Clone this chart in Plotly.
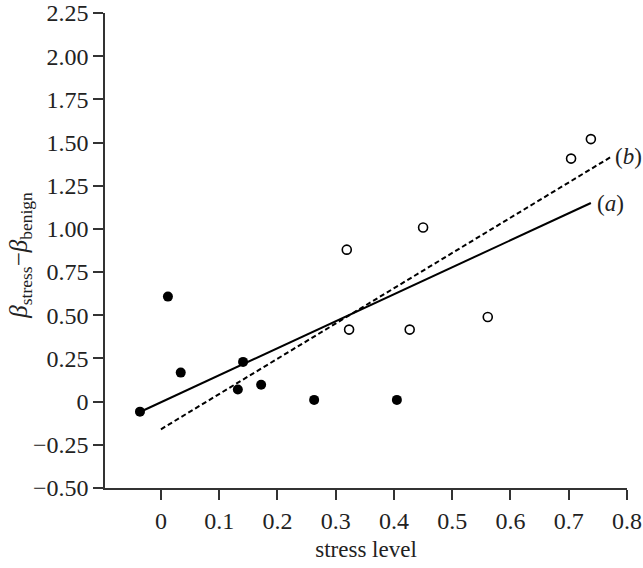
import plotly.graph_objects as go

# data
filled_x = [-0.036, 0.012, 0.034, 0.132, 0.141, 0.172, 0.263, 0.405]
filled_y = [-0.058, 0.608, 0.168, 0.070, 0.230, 0.098, 0.010, 0.010]
open_x = [0.319, 0.323, 0.427, 0.450, 0.561, 0.704, 0.738]
open_y = [0.880, 0.417, 0.417, 1.008, 0.490, 1.407, 1.520]
line_a_x = [-0.036, 0.738]
line_a_y = [-0.060, 1.150]
line_b_x = [0.0, 0.774]
line_b_y = [-0.160, 1.420]
x_ticks = [0, 0.1, 0.2, 0.3, 0.4, 0.5, 0.6, 0.7, 0.8]
x_tick_labels = ["0", "0.1", "0.2", "0.3", "0.4", "0.5", "0.6", "0.7", "0.8"]
y_ticks = [-0.5, -0.25, 0, 0.25, 0.5, 0.75, 1.0, 1.25, 1.5, 1.75, 2.0, 2.25]
y_tick_labels = ["\u22120.50", "\u22120.25", "0", "0.25", "0.50", "0.75", "1.00",
                 "1.25", "1.50", "1.75", "2.00", "2.25"]

FONT = "Liberation Serif, Times New Roman, serif"
fig = go.Figure()
fig.add_trace(go.Scatter(x=line_a_x, y=line_a_y, mode="lines",
                         line=dict(color="black", width=2), cliponaxis=False))
fig.add_trace(go.Scatter(x=line_b_x, y=line_b_y, mode="lines",
                         line=dict(color="black", width=2, dash="5px,3px"), cliponaxis=False))
fig.add_trace(go.Scatter(x=filled_x, y=filled_y, mode="markers",
                         marker=dict(color="black", size=10, line=dict(width=0)), cliponaxis=False))
fig.add_trace(go.Scatter(x=open_x, y=open_y, mode="markers",
                         marker=dict(color="white", size=9, line=dict(color="black", width=1.6)),
                         cliponaxis=False))

fig.add_annotation(x=line_a_x[1], y=line_a_y[1], text="(<i>a</i>)", showarrow=False,
                   xanchor="left", yanchor="middle", xshift=4, font=dict(size=23, color="#222", family=FONT))
fig.add_annotation(x=line_b_x[1], y=line_b_y[1], text="(<i>b</i>)", showarrow=False,
                   xanchor="left", yanchor="middle", xshift=1, font=dict(size=23, color="#222", family=FONT))
fig.add_annotation(xref="paper", yref="paper", x=-0.162, y=0.49,
                   text="<i>β</i><sub>stress</sub>\u2212<i>β</i><sub>benign</sub>",
                   textangle=-90, showarrow=False, xanchor="center", yanchor="middle",
                   font=dict(size=25, color="#222", family=FONT))

fig.update_layout(
    width=643, height=568,
    margin=dict(l=105, r=16, t=13, b=80, autoexpand=False),
    paper_bgcolor="white", plot_bgcolor="white",
    showlegend=False,
    font=dict(family=FONT, size=23, color="#222"),
    xaxis=dict(range=[-0.096, 0.8], tickvals=x_ticks, ticktext=x_tick_labels, automargin=False,
               showgrid=False, zeroline=False, showline=True, linecolor="#333", linewidth=1.5,
               ticks="outside", ticklen=10, tickwidth=1.5, tickcolor="#333",
               tickfont=dict(size=24, family=FONT, color="#222"),
               title=dict(text="stress level", font=dict(size=23, family=FONT, color="#222"), standoff=8)),
    yaxis=dict(range=[-0.5, 2.25], tickvals=y_ticks, ticktext=y_tick_labels, automargin=False,
               showgrid=False, zeroline=False, showline=True, linecolor="#333", linewidth=1.5,
               ticks="outside", ticklen=10, tickwidth=1.5, tickcolor="#333",
               tickfont=dict(size=24, family=FONT, color="#222")),
)
fig.write_html("out.html", config={"displayModeBar": False},
               post_script="document.body.style.margin='0';document.body.style.overflow='hidden';")
